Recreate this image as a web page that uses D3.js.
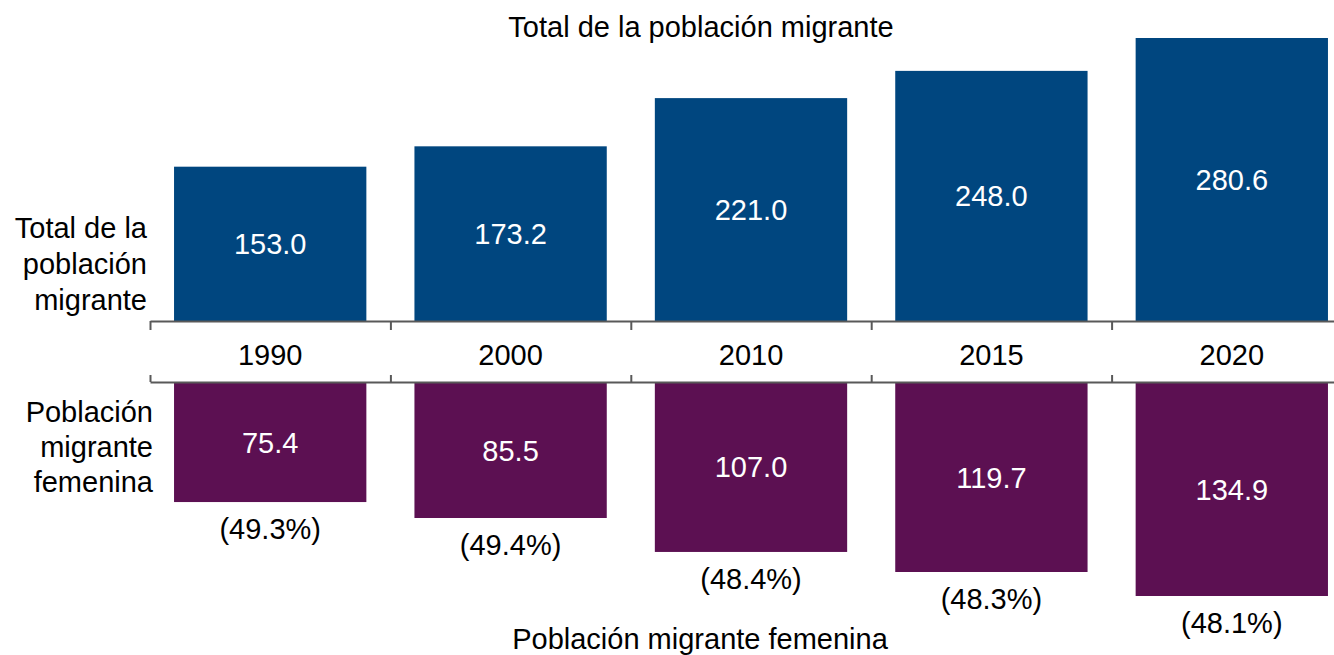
<!DOCTYPE html>
<html>
<head>
<meta charset="utf-8">
<script src="https://cdn.jsdelivr.net/npm/d3@7"></script>
<style>
  body { margin: 0; background: #fff; }
  svg { font-family: "Liberation Sans", Arial, sans-serif; display: block; }
  .axis path, .axis line { stroke: #595959; stroke-width: 2; }
</style>
</head>
<body>
<div id="chart"></div>
<script>
// data
const years = ["1990", "2000", "2010", "2015", "2020"];
const totalMigrants = [153.0, 173.2, 221.0, 248.0, 280.6];
const femaleMigrants = [75.4, 85.5, 107.0, 119.7, 134.9];
const femaleShare = ["(49.3%)", "(49.4%)", "(48.4%)", "(48.3%)", "(48.1%)"];

const WIDTH = 1334;
const HEIGHT = 655;
const TOP_BASE = 321;     // bottom of the blue bars
const BOTTOM_BASE = 383;  // top of the purple bars
const BLUE = "#00467f";
const PURPLE = "#5c1052";
const FONT = 29;

const svg = d3.select("#chart").append("svg")
  .attr("width", WIDTH)
  .attr("height", HEIGHT);

// band scale, the last band runs past the right edge like in the source
const x = d3.scaleBand()
  .domain(years)
  .range([150, 1352])
  .paddingInner(0.2)
  .paddingOuter(0.1);

// edges of the categories, for the tick marks
const edge = d3.scaleLinear()
  .domain([0, years.length])
  .range([150, 1352]);

const yTop = d3.scaleLinear()
  .domain([0, 280.6])
  .range([TOP_BASE, 38]);

const yBottom = d3.scaleLinear()
  .domain([0, 134.9])
  .range([BOTTOM_BASE, 596]);

const rows = years.map((y, i) => ({
  year: y, total: totalMigrants[i], female: femaleMigrants[i], share: femaleShare[i]
}));

// blue bars
svg.append("g").selectAll("rect")
  .data(rows)
  .join("rect")
    .attr("x", d => x(d.year))
    .attr("y", d => yTop(d.total))
    .attr("width", x.bandwidth())
    .attr("height", d => yTop(0) - yTop(d.total))
    .attr("fill", BLUE);

svg.append("g").selectAll("text")
  .data(rows)
  .join("text")
    .attr("x", d => x(d.year) + x.bandwidth() / 2)
    .attr("y", d => (yTop(d.total) + yTop(0)) / 2 + 10)
    .attr("text-anchor", "middle")
    .attr("fill", "#fff")
    .attr("font-size", FONT)
    .text(d => d.total.toFixed(1));

// purple bars
svg.append("g").selectAll("rect")
  .data(rows)
  .join("rect")
    .attr("x", d => x(d.year))
    .attr("y", yBottom(0))
    .attr("width", x.bandwidth())
    .attr("height", d => yBottom(d.female) - yBottom(0))
    .attr("fill", PURPLE);

svg.append("g").selectAll("text")
  .data(rows)
  .join("text")
    .attr("x", d => x(d.year) + x.bandwidth() / 2)
    .attr("y", d => (yBottom(d.female) + yBottom(0)) / 2 + 10)
    .attr("text-anchor", "middle")
    .attr("fill", "#fff")
    .attr("font-size", FONT)
    .text(d => d.female.toFixed(1));

// share labels under the purple bars
svg.append("g").selectAll("text")
  .data(rows)
  .join("text")
    .attr("x", d => x(d.year) + x.bandwidth() / 2)
    .attr("y", d => yBottom(d.female) + 37)
    .attr("text-anchor", "middle")
    .attr("fill", "#000")
    .attr("font-size", FONT)
    .text(d => d.share);

// the two axis lines with ticks at the category edges
svg.append("g")
  .attr("class", "axis")
  .attr("transform", `translate(0,${TOP_BASE})`)
  .call(d3.axisBottom(edge).ticks(years.length).tickSize(9).tickSizeOuter(0).tickFormat(""));

svg.append("g")
  .attr("class", "axis")
  .attr("transform", `translate(0,${BOTTOM_BASE - 1})`)
  .call(d3.axisTop(edge).ticks(years.length).tickSize(7).tickSizeOuter(0).tickFormat(""));

// year labels between the axes
const yearAxis = svg.append("g")
  .attr("transform", `translate(0,344)`)
  .call(d3.axisBottom(x).tickSize(0).tickPadding(0));
yearAxis.select(".domain").remove();
yearAxis.selectAll("text")
  .attr("font-size", FONT)
  .attr("font-family", "Liberation Sans, Arial, sans-serif")
  .attr("fill", "#000")
  .attr("dy", "0.71em");

// titles
svg.append("text")
  .attr("x", 701).attr("y", 37)
  .attr("text-anchor", "middle")
  .attr("font-size", FONT)
  .text("Total de la población migrante");

svg.append("text")
  .attr("x", 700).attr("y", 649)
  .attr("text-anchor", "middle")
  .attr("font-size", FONT)
  .text("Población migrante femenina");

// row labels on the left
const leftTop = ["Total de la", "población", "migrante"];
const leftBottom = ["Población", "migrante", "femenina"];

svg.append("text")
  .attr("text-anchor", "end")
  .attr("font-size", FONT)
  .selectAll("tspan")
  .data(leftTop)
  .join("tspan")
    .attr("x", 147)
    .attr("y", (d, i) => 238 + i * 36)
    .text(d => d);

svg.append("text")
  .attr("text-anchor", "end")
  .attr("font-size", FONT)
  .selectAll("tspan")
  .data(leftBottom)
  .join("tspan")
    .attr("x", 153)
    .attr("y", (d, i) => 422 + i * 35)
    .text(d => d);
</script>
</body>
</html>
